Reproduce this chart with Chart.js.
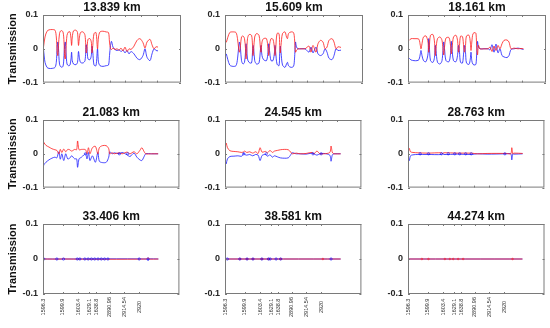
<!DOCTYPE html>
<html>
<head>
<meta charset="utf-8">
<script src="https://cdn.jsdelivr.net/npm/chart.js@4.4.1/dist/chart.umd.min.js"></script>
<style>
  body { margin: 0; background: #fff; }
  #wrap { position: relative; width: 550px; height: 328px; overflow: hidden; }
  #wrap canvas { position: absolute; }
</style>
</head>
<body>
<div id="wrap"></div>
<script>
// panel titles (distance)
const titles = ['13.839 km', '15.609 km', '18.161 km', '21.083 km', '24.545 km', '28.763 km', '33.406 km', '38.581 km', '44.274 km'];

// wavelength labels of the bottom row and where they sit on the sample axis
const tickLabels = ['1596.3', '1599.9', '1603.4', '1629.1', '1638.8', '2890.96', '2914.54', '2920'];
const labelTickX = [0, 20, 35.6, 46.6, 54, 67.3, 82.3, 97.3];
const plainTickX = [20, 35.6, 51.2, 66.8, 82.4, 98, 113.6];
const yTicks = [-0.1, 0, 0.1];
const X_MAX = 138;

// 13.839 km
const p1X = [0.5, 2, 4, 6, 9, 12, 13.3, 14.2, 14.8, 15.5, 16.5, 18, 20, 21, 21.7, 22.3, 23, 24, 25.5, 27,
  28, 28.6, 29.3, 30.5, 33, 34.5, 35.5, 36.3, 37.5, 40, 42, 43.2, 44, 45, 47, 48.3, 49, 49.8, 51, 53,
  54.5, 55.5, 57, 60, 63, 65.5, 66.5, 67.5, 68.5, 70, 72, 74, 76, 78, 80, 82, 84, 86, 88,
  91, 94, 97, 100, 102, 104, 107, 109, 111, 113, 115];
const p1Red = [0.005, 0.035, 0.052, 0.056, 0.057, 0.055, 0.035, -0.01, -0.02, 0.01, 0.045, 0.054, 0.05, 0.02, -0.025, -0.03, 0.0, 0.04, 0.05, 0.05,
  0.03, 0.01, 0.035, 0.053, 0.055, 0.048, 0.01, 0.03, 0.048, 0.05, 0.04, -0.012, 0.0, 0.028, 0.03, 0.02, -0.012, 0.01, 0.045, 0.048,
  0.0, 0.035, 0.05, 0.052, 0.05, 0.048, 0.02, 0.0, -0.002, 0.002, -0.002, 0.0, -0.004, 0.002, -0.006, 0.005, -0.008, 0.0, -0.002,
  0.008, 0.025, 0.03, 0.018, 0.002, 0.02, 0.028, 0.012, 0.0, 0.006, 0.005];
const p1Blue = [-0.002, -0.04, -0.055, -0.058, -0.058, -0.055, -0.04, 0.005, 0.02, 0.0, -0.045, -0.054, -0.052, -0.02, 0.015, 0.02, -0.01, -0.045, -0.05, -0.048,
  -0.03, -0.01, -0.035, -0.045, -0.047, -0.04, -0.008, -0.025, -0.04, -0.042, -0.035, 0.012, 0.0, -0.03, -0.032, -0.02, 0.008, -0.01, -0.048, -0.05,
  0.0, -0.04, -0.05, -0.052, -0.05, -0.048, -0.02, 0.01, 0.022, 0.005, -0.002, -0.005, -0.003, -0.008, -0.004, -0.012, -0.005, -0.015, -0.008,
  -0.015, -0.028, -0.032, -0.02, 0.0, -0.025, -0.035, -0.015, 0.0, -0.005, -0.006];

// 15.609 km
const p2X = [1.3, 4.7, 8, 11, 12.5, 13.7, 14.5, 15.5, 16.5, 18, 19.5, 20.5, 21, 21.7, 22.5, 24, 26.5, 27.5, 28, 28.7,
  29.7, 31.5, 34, 35.5, 36, 37, 38.5, 41.5, 43, 43.7, 44.5, 46, 48, 49.5, 50, 50.7, 52, 54, 54.7, 55.3,
  56, 57.5, 60, 61.5, 62.5, 63.5, 66, 68.5, 69.5, 70.5, 71.5, 73, 76, 80, 84, 86, 88, 91, 93, 95.5,
  98, 100, 102, 104, 107, 109, 111, 113, 116];
const p2Red = [0.019, 0.048, 0.05, 0.048, 0.03, 0.0, -0.01, 0.01, 0.035, 0.038, 0.03, 0.0, -0.03, -0.01, 0.03, 0.042, 0.04, 0.01, -0.02, 0.0,
  0.035, 0.045, 0.04, 0.0, -0.01, 0.02, 0.03, 0.03, 0.0, -0.02, 0.01, 0.03, 0.028, 0.0, -0.02, 0.0, 0.045, 0.045, 0.01, -0.012,
  0.01, 0.045, 0.05, 0.035, 0.03, 0.045, 0.05, 0.048, 0.03, -0.01, -0.005, 0.0, 0.0, 0.0, 0.008, -0.01, 0.01, -0.01, 0.015, 0.025,
  0.02, 0.0, 0.005, 0.025, 0.03, 0.02, 0.0, 0.006, 0.004];
const p2Blue = [-0.015, -0.048, -0.052, -0.05, -0.03, 0.005, 0.02, 0.0, -0.035, -0.045, -0.04, -0.01, 0.015, 0.0, -0.03, -0.04, -0.042, -0.01, 0.01, 0.0,
  -0.035, -0.045, -0.042, 0.0, 0.01, -0.02, -0.032, -0.035, -0.01, 0.015, -0.005, -0.035, -0.035, -0.01, 0.01, -0.01, -0.045, -0.05, -0.015, 0.008,
  -0.01, -0.048, -0.055, -0.045, -0.04, -0.05, -0.055, -0.052, -0.03, 0.02, 0.005, 0.0, 0.0, 0.0, -0.01, 0.005, -0.012, 0.005, -0.015, -0.02,
  -0.015, 0.0, -0.01, -0.028, -0.032, -0.02, 0.0, -0.005, -0.004];

// 18.161 km
const p3X = [1.3, 3, 6, 9, 11, 12.3, 13, 14, 15.5, 18, 20, 20.7, 21.3, 22.5, 25, 26.5, 27.3, 28, 29.5, 32,
  34, 35.7, 36.5, 38, 41, 42.5, 43.3, 44, 45.5, 48, 49.5, 50.5, 51.5, 52.5, 54.5, 55.7, 56.5, 57.5, 58.5, 61,
  62.3, 63, 63.8, 65, 67, 68, 68.8, 69.5, 70.5, 72, 76, 80, 82, 84, 86, 88, 90, 92, 94, 96,
  99, 101, 103, 106, 110, 113, 115.5];
const p3Red = [0.025, 0.03, 0.03, 0.03, 0.028, 0.01, 0.0, 0.015, 0.035, 0.038, 0.02, -0.01, 0.005, 0.04, 0.042, 0.02, -0.02, 0.0, 0.03, 0.035,
  0.025, -0.018, 0.005, 0.032, 0.033, 0.01, -0.015, 0.0, 0.035, 0.04, 0.025, -0.01, 0.01, 0.037, 0.036, 0.005, -0.01, 0.01, 0.038, 0.04,
  0.02, -0.005, 0.02, 0.045, 0.048, 0.045, 0.0, -0.018, 0.01, 0.0, 0.0, 0.0, 0.005, -0.008, 0.008, -0.005, 0.01, 0.0, 0.015, 0.025,
  0.026, 0.02, 0.0, 0.002, 0.0, 0.001, 0.0];
const p3Blue = [-0.028, -0.033, -0.035, -0.035, -0.032, -0.015, -0.005, -0.02, -0.035, -0.038, -0.015, 0.03, 0.01, -0.035, -0.04, -0.025, 0.01, -0.005, -0.04, -0.045,
  -0.035, 0.02, 0.0, -0.035, -0.038, -0.015, 0.022, 0.0, -0.035, -0.038, -0.02, 0.01, -0.01, -0.04, -0.042, -0.01, 0.01, -0.01, -0.042, -0.046,
  -0.03, -0.01, -0.035, -0.046, -0.048, -0.045, -0.01, 0.022, 0.005, 0.0, 0.0, 0.0, -0.003, 0.012, -0.01, 0.014, -0.012, 0.0, -0.02, -0.024,
  -0.026, -0.02, -0.002, 0.0, 0.002, 0.0, -0.002];

// 21.083 km
const p4X = [0, 1, 3, 6, 9, 12, 14, 16, 17.5, 19, 21, 23, 25, 27, 29, 32, 34, 35, 36.5, 39,
  43, 44.5, 46, 47.5, 50, 53, 55.5, 57, 60, 64, 66.5, 67.5, 70, 72, 77, 80, 85, 88, 92, 95,
  98, 100, 102, 104, 110, 116.5];
const p4Red = [0.04, 0.033, 0.025, 0.02, 0.015, 0.012, 0.01, 0.0, 0.013, 0.004, 0.014, 0.006, 0.013, 0.012, 0.008, 0.013, 0.012, 0.038, 0.012, 0.013,
  0.012, 0.0, 0.018, 0.0, 0.018, 0.022, 0.0, 0.018, 0.024, 0.024, 0.015, 0.0, 0.003, 0.0, 0.003, 0.0, 0.005, 0.0, 0.006, 0.0,
  0.01, 0.018, 0.008, 0.0, 0.0, 0.0];
const p4Blue = [-0.04, -0.032, -0.025, -0.018, -0.013, -0.01, -0.012, 0.006, -0.016, 0.0, -0.02, 0.0, -0.015, -0.013, -0.006, -0.015, -0.015, -0.04, -0.015, -0.01,
  0.0, -0.015, 0.004, -0.02, -0.006, -0.025, 0.004, -0.022, -0.026, -0.025, -0.01, 0.006, 0.0, 0.003, 0.0, 0.004, -0.003, -0.008, 0.002, -0.01,
  -0.018, -0.02, -0.01, 0.0, 0.0, 0.0];

// 24.545 km
const p5X = [1.3, 2.5, 5, 9, 13, 17, 19, 20, 22, 25, 28, 31, 33.5, 35.5, 37.5, 41, 43, 45.5, 48, 50,
  53, 56, 60, 64, 66.5, 68, 72, 76, 82, 88, 90, 93, 96, 100, 106, 107.3, 108.5, 110, 117];
const p5Red = [0.032, 0.018, 0.009, 0.007, 0.006, 0.004, 0.006, 0.008, 0.004, 0.006, 0.002, 0.006, 0.001, 0.018, 0.005, 0.007, 0.003, 0.01, 0.004, 0.008,
  0.01, 0.012, 0.013, 0.012, 0.005, 0.0, 0.002, 0.0, 0.001, 0.004, 0.0, 0.008, 0.0, 0.0, 0.004, 0.023, 0.005, 0.0, 0.0];
const p5Blue = [-0.03, -0.015, -0.008, -0.007, -0.006, -0.007, 0.002, -0.002, -0.004, -0.002, -0.006, -0.002, -0.004, -0.02, -0.005, -0.002, -0.007, -0.003, -0.01, -0.006,
  -0.009, -0.012, -0.013, -0.012, -0.003, 0.003, 0.0, 0.0, -0.001, 0.002, 0.0, -0.004, 0.0, 0.001, -0.004, -0.022, -0.004, 0.0, 0.0];

// 28.763 km
const p6X = [0, 1.3, 2.5, 5, 10, 20, 34, 35, 36, 50, 64, 70, 80, 100, 104, 105, 106, 107, 116];
const p6Red = [0.004, 0.016, 0.006, 0.004, 0.003, 0.002, 0.003, 0.0, 0.003, 0.002, 0.002, 0.0, 0.001, 0.001, 0.0, 0.018, 0.0, 0.002, 0.001];
const p6Blue = [-0.004, -0.02, -0.006, -0.003, -0.002, -0.002, -0.002, 0.002, -0.002, -0.001, -0.002, 0.0, -0.001, 0.0, 0.0, -0.018, 0.0, -0.001, 0.0];

// 33.406 km
const p7X = [0, 20, 20.7, 21.4, 105.5, 106.3, 107, 116.7];
const p7Red = [0, 0, 0.002, 0, 0, 0.004, 0, 0];
const p7Blue = [0, 0, 0, 0, 0, -0.004, 0, 0];

// 38.581 km
const p8X = [1.3, 117];
const p8Red = [0, 0];
const p8Blue = [0, 0];

// 44.274 km
const p9X = [0, 115.7];
const p9Red = [0, 0];
const p9Blue = [0, 0];

// circle markers sitting on the zero line
const p4Marks = [43, 77.3, 85.7];
const p5Marks = [19, 41.7, 89, 97.3];
const p6Marks = [12.3, 20.7, 34, 40.7, 47.3, 52.3, 58.3, 64, 98];
const p7Marks = [0.7, 14, 20.7, 34.7, 37.3, 42.3, 45.7, 49, 52.3, 55.7, 59, 62.3, 65.7, 97.3, 106.3];
const p8Marks = [2.3, 15, 22.3, 28.3, 37.3, 44, 45.7, 51.7, 56.3, 107.3];
const p8RedMarks = [15, 22.3, 28.3, 37.3, 44, 56.3, 99];
const p9RedMarks = [14, 20.7, 37.3, 42.3, 45.7, 50.7, 55.7, 105.7];

const panels = [
  { x: p1X, red: p1Red, blue: p1Blue, marks: [], redMarks: [] },
  { x: p2X, red: p2Red, blue: p2Blue, marks: [], redMarks: [] },
  { x: p3X, red: p3Red, blue: p3Blue, marks: [], redMarks: [] },
  { x: p4X, red: p4Red, blue: p4Blue, marks: p4Marks, redMarks: [] },
  { x: p5X, red: p5Red, blue: p5Blue, marks: p5Marks, redMarks: [] },
  { x: p6X, red: p6Red, blue: p6Blue, marks: p6Marks, redMarks: [] },
  { x: p7X, red: p7Red, blue: p7Blue, marks: p7Marks, redMarks: [] },
  { x: p8X, red: p8Red, blue: p8Blue, marks: p8Marks, redMarks: p8RedMarks },
  { x: p9X, red: p9Red, blue: p9Blue, marks: [], redMarks: p9RedMarks }
];

const FONT = '"Liberation Sans", Arial, Helvetica, sans-serif';
const COL_LEFT = [43, 225, 408];
const ROW_TOP = [15, 120, 224];
const PANEL_W = 138;
const PANEL_H = 70;
const TITLE_H = 16;

// matlab style box with inward ticks, plus the rotated wavelength labels
const framePlugin = {
  id: 'frame',
  afterDraw(chart, args, opts) {
    const { ctx, chartArea: a, scales } = chart;
    const x = scales.x, y = scales.y;
    ctx.save();
    ctx.strokeStyle = '#7a7a7a';
    ctx.lineWidth = 1;
    ctx.strokeRect(a.left + 0.5, a.top + 0.5, a.width - 1, a.height - 1);
    ctx.beginPath();
    opts.xTicks.forEach(v => {
      const px = Math.round(x.getPixelForValue(v)) + 0.5;
      ctx.moveTo(px, a.bottom);
      ctx.lineTo(px, a.bottom - 2);
      ctx.moveTo(px, a.top);
      ctx.lineTo(px, a.top + 2);
    });
    yTicks.forEach(v => {
      const py = Math.round(y.getPixelForValue(v)) + 0.5;
      ctx.moveTo(a.left, py);
      ctx.lineTo(a.left + 2, py);
      ctx.moveTo(a.right, py);
      ctx.lineTo(a.right - 2, py);
    });
    ctx.stroke();
    if (opts.labels) {
      ctx.fillStyle = '#333';
      ctx.font = '5.5px ' + FONT;
      ctx.textAlign = 'center';
      ctx.textBaseline = 'middle';
      opts.labels.forEach((t, k) => {
        ctx.save();
        ctx.translate(x.getPixelForValue(opts.xTicks[k]), a.bottom + 13);
        ctx.rotate(-Math.PI / 2);
        ctx.fillText(t, 0, 0);
        ctx.restore();
      });
    }
    ctx.restore();
  }
};

function points(xs, ys) {
  return xs.map((v, i) => ({ x: v, y: ys[i] }));
}

function onZero(xs) {
  return xs.map(v => ({ x: v, y: 0 }));
}

const wrap = document.getElementById('wrap');

panels.forEach((p, i) => {
  const col = i % 3;
  const row = Math.floor(i / 3);
  const yW = col === 0 ? 43 : 30;
  const xH = row === 2 ? 34 : 8;
  const w = yW + PANEL_W + 3;
  const h = TITLE_H + PANEL_H + xH;

  const cv = document.createElement('canvas');
  cv.width = w;
  cv.height = h;
  cv.style.width = w + 'px';
  cv.style.height = h + 'px';
  cv.style.left = (COL_LEFT[col] - yW) + 'px';
  cv.style.top = (ROW_TOP[row] - TITLE_H) + 'px';
  wrap.appendChild(cv);

  new Chart(cv, {
    type: 'line',
    data: {
      datasets: [
        {
          data: onZero(p.marks),
          showLine: false,
          pointRadius: 1.2,
          pointBorderWidth: 0.6,
          pointBorderColor: 'rgba(0, 0, 255, 0.8)',
          pointBackgroundColor: 'rgba(0, 0, 255, 0.15)'
        },
        {
          data: onZero(p.redMarks),
          showLine: false,
          pointRadius: 0.9,
          pointBorderWidth: 0.5,
          pointBorderColor: 'rgba(255, 0, 0, 0.7)',
          pointBackgroundColor: 'rgba(255, 0, 0, 0.2)'
        },
        {
          data: points(p.x, p.red),
          borderColor: '#ff1a1a',
          borderWidth: 0.8,
          tension: 0.3,
          pointRadius: 0
        },
        {
          data: points(p.x, p.blue),
          borderColor: '#1a1aff',
          borderWidth: 0.8,
          tension: 0.3,
          pointRadius: 0
        }
      ]
    },
    options: {
      responsive: false,
      animation: false,
      events: [],
      layout: { padding: { left: 0, right: 3, top: 0, bottom: 0 } },
      plugins: {
        legend: { display: false },
        tooltip: { enabled: false },
        title: {
          display: true,
          text: titles[i],
          fullSize: false,
          color: '#111',
          font: { family: FONT, size: 12, weight: 'bold', lineHeight: '14px' },
          padding: { top: 2, bottom: 0 }
        },
        frame: {
          xTicks: row === 2 ? labelTickX : plainTickX,
          labels: row === 2 ? tickLabels : null
        }
      },
      scales: {
        x: {
          type: 'linear',
          min: 0,
          max: X_MAX,
          grid: { display: false, drawTicks: false },
          border: { display: false },
          ticks: { display: false },
          afterFit: s => { s.height = xH; }
        },
        y: {
          min: -0.1,
          max: 0.1,
          grid: { display: false, drawTicks: false },
          border: { display: false },
          afterBuildTicks: s => { s.ticks = yTicks.map(v => ({ value: v })); },
          ticks: {
            color: '#262626',
            padding: 5,
            font: { family: FONT, size: 9, weight: 'bold' },
            callback: v => String(v)
          },
          title: {
            display: col === 0,
            text: 'Transmission',
            color: '#111',
            font: { family: FONT, size: 11, weight: 'bold' },
            padding: { top: 6, bottom: 0 }
          },
          afterFit: s => { s.width = yW; }
        }
      }
    },
    plugins: [framePlugin]
  });
});
</script>
</body>
</html>
